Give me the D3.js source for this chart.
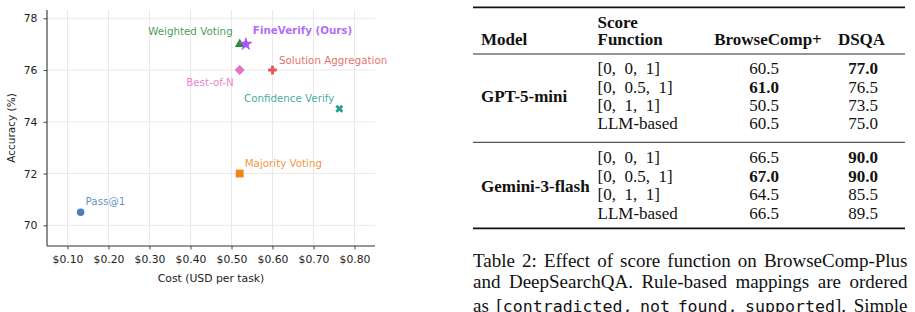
<!DOCTYPE html>
<html><head><meta charset="utf-8">
<script src="https://cdn.jsdelivr.net/npm/d3@7"></script>
<style>html,body{margin:0;padding:0;background:#fff;}svg{display:block;}</style>
</head><body>
<svg id="c" width="915" height="312"></svg>
<script>
// ---------- chart data ----------
const methods = ["Pass@1","Majority Voting","Weighted Voting","FineVerify (Ours)","Best-of-N","Solution Aggregation","Confidence Verify"];
const costs = [0.132, 0.52, 0.52, 0.535, 0.52, 0.60, 0.763];
const accuracy = [70.5, 72.0, 77.0, 77.0, 76.0, 76.0, 74.5];
const xTicks = [0.10, 0.20, 0.30, 0.40, 0.50, 0.60, 0.70, 0.80];
const yTicks = [70, 72, 74, 76, 78];
const xLabel = "Cost (USD per task)";
const yLabel = "Accuracy (%)";

// ---------- table data ----------
const tableHeader = ["Model", "Score|Function", "BrowseComp+", "DSQA"];
const tableModels = ["GPT-5-mini", "Gemini-3-flash"];
const scoreFunctions = ["[0,  0,  1]", "[0,  0.5,  1]", "[0,  1,  1]", "LLM-based"];
const browseComp = [[60.5, 61.0, 50.5, 60.5], [66.5, 67.0, 64.5, 66.5]];
const dsqa = [[77.0, 76.5, 73.5, 75.0], [90.0, 90.0, 85.5, 89.5]];
const captionLines = [
  [["Table"],["2:"],["Effect"],["of"],["score"],["function"],["on"],["BrowseComp-Plus"]],
  [["and"],["DeepSearchQA."],["Rule-based"],["mappings"],["are"],["ordered"]],
  [["as"],["[","~contradicted,"],["~not"],["~found,"],["~supported","]."],["Simple"]]
];

// ---------- styles ----------
const colors = ["#4a7fc1","#f5831a","#2e8b3b","#a855f7","#e373c4","#e45756","#2a9d96"];
const symbols = [d3.symbolCircle, d3.symbolSquare, d3.symbolTriangle, d3.symbolStar, d3.symbolSquare, d3.symbolCross, d3.symbolCross];
const symSizes = [44, 62, 40, 62, 50, 42, 40];
const symRot = [0, 0, 0, 0, 45, 0, 45];
const labelOff = [[5,-11,"start"],[5,-10,"start"],[-7,-12.5,"end"],[7,-13.5,"start"],[-6,12.5,"end"],[6.5,-10,"start"],[-5,-10.5,"end"]];

const svg = d3.select("#c");
const sans = "'DejaVu Sans', sans-serif";
const serif = "'Liberation Serif', 'Times New Roman', serif";
const mono = "'DejaVu Sans Mono', 'Liberation Mono', monospace";

const x = d3.scaleLinear().domain([0.05, 0.85]).range([47, 375]);
const y = d3.scaleLinear().domain([69.2, 78.32]).range([246, 10]);

const plot = svg.append("g");
// grid
plot.append("g").selectAll("line").data(xTicks).join("line")
  .attr("x1", d => x(d)).attr("x2", d => x(d)).attr("y1", y.range()[1]).attr("y2", y.range()[0])
  .attr("stroke", "#e6e6e6").attr("stroke-width", 0.9);
plot.append("g").selectAll("line").data(yTicks).join("line")
  .attr("y1", d => y(d)).attr("y2", d => y(d)).attr("x1", x.range()[0]).attr("x2", x.range()[1])
  .attr("stroke", "#e6e6e6").attr("stroke-width", 0.9);

// axes
const xAxis = plot.append("g").attr("transform", `translate(0,${y.range()[0]})`)
  .call(d3.axisBottom(x).tickValues(xTicks).tickFormat(d => "$" + d.toFixed(2)).tickSize(3.5).tickPadding(5.5));
const yAxis = plot.append("g").attr("transform", `translate(${x.range()[0]},0)`)
  .call(d3.axisLeft(y).tickValues(yTicks).tickFormat(d3.format("d")).tickSize(3.5).tickPadding(6));
[xAxis, yAxis].forEach(a => {
  a.select(".domain").attr("stroke", "#333").attr("stroke-width", 1.1);
  a.selectAll(".tick line").attr("stroke", "#333").attr("stroke-width", 0.9);
  a.selectAll(".tick text").attr("fill", "#222").style("font-family", sans).style("font-size", "10.8px");
});
xAxis.select(".domain").attr("d", `M${x.range()[0]},0H${x.range()[1]}`);
yAxis.select(".domain").attr("d", `M0,${y.range()[0]}V${y.range()[1]}`);

plot.append("text").attr("x", (x.range()[0] + x.range()[1]) / 2).attr("y", 281.5)
  .attr("text-anchor", "middle").attr("fill", "#222").style("font-family", sans).style("font-size", "10.8px").text(xLabel);
plot.append("text").attr("transform", `translate(15,${(y.range()[0] + y.range()[1]) / 2}) rotate(-90)`)
  .attr("text-anchor", "middle").attr("fill", "#222").style("font-family", sans).style("font-size", "10.5px").text(yLabel);

// points
const pts = methods.map((m, i) => ({m, c: costs[i], a: accuracy[i], i}));
plot.append("g").selectAll("path").data(pts).join("path")
  .attr("d", d => d3.symbol().type(symbols[d.i]).size(symSizes[d.i])())
  .attr("transform", d => `translate(${x(d.c)},${y(d.a)}) rotate(${symRot[d.i]})`)
  .attr("fill", d => colors[d.i]);
plot.append("g").selectAll("text").data(pts).join("text")
  .attr("x", d => x(d.c) + labelOff[d.i][0]).attr("y", d => y(d.a) + labelOff[d.i][1])
  .attr("dy", "0.36em").attr("text-anchor", d => labelOff[d.i][2])
  .attr("fill", d => colors[d.i]).attr("fill-opacity", 0.88)
  .style("font-family", sans).style("font-size", "10.3px")
  .style("font-weight", d => d.m.includes("Ours") ? "bold" : "normal")
  .text(d => d.m);

// ---------- table ----------
const tbl = svg.append("g");
const tx0 = 473, tx1 = 905;
const fs = 17;
function rule(yv, w) { tbl.append("line").attr("x1", tx0).attr("x2", tx1).attr("y1", yv).attr("y2", yv).attr("stroke", "#111").attr("stroke-width", w); }
rule(7.3, 1.7); rule(54, 0.9); rule(142.3, 0.9); rule(228.3, 1.7);
function ttext(str, xv, yv, anchor, bold) {
  return tbl.append("text").attr("x", xv).attr("y", yv).attr("text-anchor", anchor)
    .style("font-family", serif).style("font-size", fs + "px").style("font-weight", bold ? "bold" : "normal")
    .attr("fill", "#111").text(str);
}
const colModel = 481, colScore = 597.5, colBC = 764, colDS = 863;
ttext(tableHeader[0], colModel, 45, "start", true);
tableHeader[1].split("|").forEach((s, k) => ttext(s, colScore, 28.3 + k * 16.7, "start", true));
ttext(tableHeader[2], 768, 45, "middle", true);
ttext(tableHeader[3], 861.5, 45, "middle", true);
const groupBase = [74.1, 163.4];
const rowH = 18.4;
tableModels.forEach((m, g) => {
  ttext(m, colModel, groupBase[g] + 1.5 * rowH + 0.5, "start", true);
  const bcMax = d3.max(browseComp[g]), dsMax = d3.max(dsqa[g]);
  scoreFunctions.forEach((sf, r) => {
    const yy = groupBase[g] + r * rowH;
    ttext(sf, colScore, yy, "start", false).style("white-space", "pre");
    ttext(browseComp[g][r].toFixed(1), colBC, yy, "middle", browseComp[g][r] === bcMax);
    ttext(dsqa[g][r].toFixed(1), colDS, yy, "middle", dsqa[g][r] === dsMax);
  });
});

// ---------- caption (justified) ----------
const cap = svg.append("g");
const cx0 = 473, cx1 = 907.5;
const capBase = [266.7, 288.3, 311.5];
captionLines.forEach((words, li) => {
  const nodes = words.map(parts => {
    const t = cap.append("text").attr("y", capBase[li]).attr("fill", "#111").style("white-space", "pre");
    parts.forEach(p => {
      const isMono = p.startsWith("~");
      t.append("tspan").style("font-family", isMono ? mono : serif)
        .style("font-size", isMono ? "16.6px" : "19px").text(isMono ? p.slice(1) : p);
    });
    return t;
  });
  const widths = nodes.map(n => n.node().getComputedTextLength());
  const total = d3.sum(widths);
  const gap = (cx1 - cx0 - total) / (nodes.length - 1);
  let cx = cx0;
  nodes.forEach((n, k) => { n.attr("x", cx); cx += widths[k] + gap; });
});
</script>
</body></html>
